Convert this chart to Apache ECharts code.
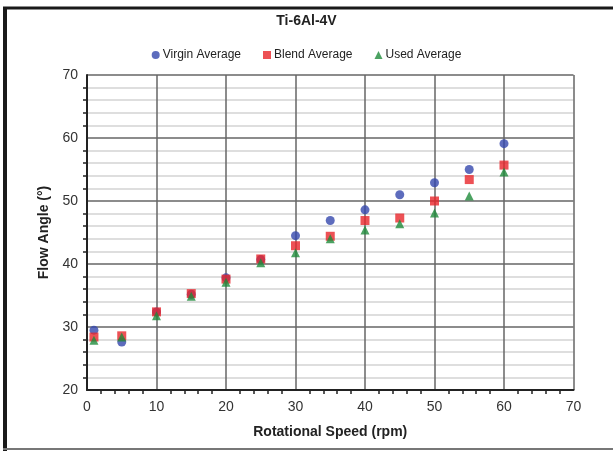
<!DOCTYPE html>
<html>
<head>
<meta charset="utf-8" />
<script src="https://cdn.jsdelivr.net/npm/echarts@6/dist/echarts.min.js"></script>
<style>
  html, body { margin: 0; padding: 0; background: #fff; }
  #chart { width: 613px; height: 451px; }
</style>
</head>
<body>
<div id="chart"></div>
<script>
const speeds = [1, 5, 10, 15, 20, 25, 30, 35, 40, 45, 50, 55, 60];
const virgin = [29.5, 27.6, 32.4, 35.2, 37.8, 40.7, 44.5, 46.9, 48.6, 51.0, 52.9, 55.0, 59.1];
const blend = [28.4, 28.6, 32.4, 35.3, 37.6, 40.8, 42.9, 44.4, 46.9, 47.3, 50.0, 53.4, 55.7];
const used = [27.9, 28.4, 31.8, 34.9, 37.1, 40.2, 41.8, 44.0, 45.4, 46.4, 48.1, 50.8, 54.6];

const font = "'Liberation Sans', Arial, sans-serif";
const pairs = (ys) => speeds.map((x, i) => [x, ys[i]]);

const chart = echarts.init(document.getElementById("chart"));

chart.setOption({
  animation: false,
  textStyle: { fontFamily: font },
  title: {
    text: "Ti-6Al-4V",
    left: "center",
    top: 9,
    textStyle: { fontFamily: font, fontSize: 14, fontWeight: "bold", color: "#222" },
  },
  legend: {
    top: 44,
    left: "center",
    itemWidth: 8,
    itemHeight: 8,
    itemGap: 22,
    textStyle: { fontFamily: font, fontSize: 12, color: "#222", padding: [0, 0, 0, -2] },
    data: [
      { name: "Virgin Average", icon: "circle" },
      { name: "Blend Average", icon: "rect" },
      { name: "Used Average", icon: "triangle" },
    ],
  },
  grid: { left: 87, right: 39.5, top: 75, bottom: 61 },
  xAxis: {
    type: "value",
    min: 0,
    max: 70,
    interval: 10,
    name: "Rotational Speed (rpm)",
    nameLocation: "middle",
    nameGap: 35,
    nameTextStyle: { fontFamily: font, fontSize: 14, fontWeight: "bold", color: "#222" },
    axisLine: { show: true, onZero: false, lineStyle: { color: "#222", width: 2 } },
    axisTick: { show: false },
    minorTick: { show: true, splitNumber: 5, length: 4, inside: true, lineStyle: { color: "#222", width: 1.5 } },
    axisLabel: { fontFamily: font, fontSize: 14, color: "#333", margin: 10 },
    splitLine: { show: true, lineStyle: { color: "#666", width: 1.5 } },
  },
  yAxis: {
    type: "value",
    min: 20,
    max: 70,
    interval: 10,
    name: "Flow Angle (°)",
    nameLocation: "middle",
    nameGap: 28,
    nameTextStyle: { fontFamily: font, fontSize: 14, fontWeight: "bold", color: "#222" },
    axisLine: { show: true, onZero: false, lineStyle: { color: "#222", width: 2 } },
    axisTick: { show: false },
    minorTick: { show: true, splitNumber: 5, length: 4, inside: true, lineStyle: { color: "#222", width: 1.5 } },
    axisLabel: { fontFamily: font, fontSize: 14, color: "#333", margin: 9 },
    splitLine: { show: true, lineStyle: { color: "#666", width: 1.5 } },
    minorSplitLine: { show: true, lineStyle: { color: "#d4d4d4", width: 1.5 } },
  },
  series: [
    {
      name: "Virgin Average",
      type: "scatter",
      symbol: "circle",
      symbolSize: 9,
      itemStyle: { color: "#3447ad" },
      data: pairs(virgin),
    },
    {
      name: "Blend Average",
      type: "scatter",
      symbol: "rect",
      symbolSize: 9,
      itemStyle: { color: "#e8262b" },
      data: pairs(blend),
    },
    {
      name: "Used Average",
      type: "scatter",
      symbol: "triangle",
      symbolSize: 9,
      itemStyle: { color: "#1f8b3b" },
      data: pairs(used),
    },
  ],
  graphic: [
    { type: "line", shape: { x1: 3, y1: 8, x2: 613, y2: 8 }, style: { stroke: "#1a1a1a", lineWidth: 3 } },
    { type: "line", shape: { x1: 5, y1: 7, x2: 5, y2: 451 }, style: { stroke: "#1a1a1a", lineWidth: 4 } },
    { type: "line", shape: { x1: 3, y1: 449, x2: 613, y2: 449 }, style: { stroke: "#777", lineWidth: 2 } },
  ],
});
</script>
</body>
</html>
